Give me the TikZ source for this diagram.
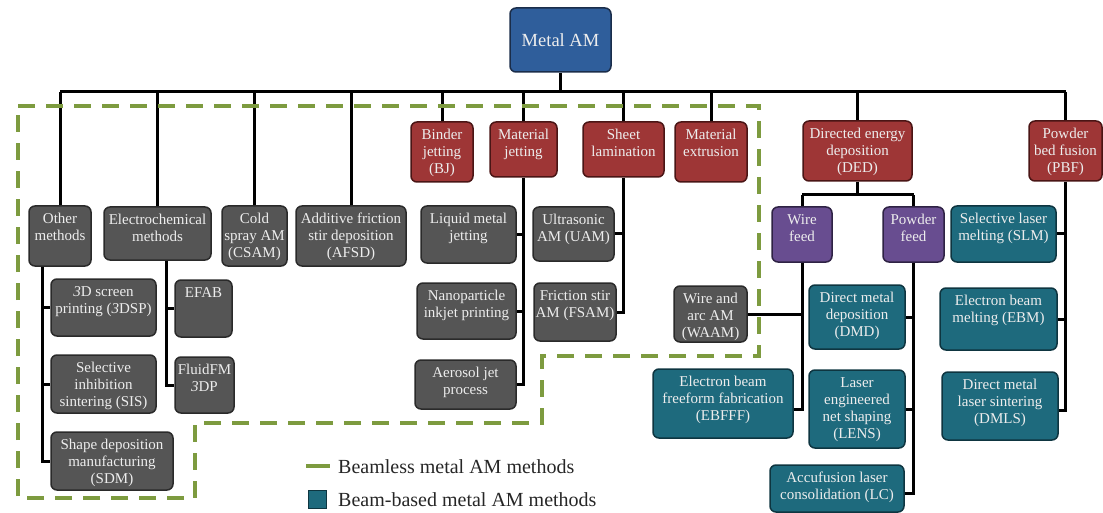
\documentclass[tikz,border=0pt]{standalone}
\usepackage{fontspec}
\setmainfont{Liberation Serif}
\definecolor{gfill}{HTML}{555555}
\definecolor{gline}{HTML}{2A2A2A}
\definecolor{rfill}{HTML}{9E3636}
\definecolor{rline}{HTML}{4A1515}
\definecolor{bfill}{HTML}{2F5E9B}
\definecolor{bline}{HTML}{1A2D4A}
\definecolor{pfill}{HTML}{684D90}
\definecolor{pline}{HTML}{2E2244}
\definecolor{tfill}{HTML}{1E6A7D}
\definecolor{tline}{HTML}{0E3540}
\definecolor{dgreen}{HTML}{7D9B3F}
\definecolor{txt}{HTML}{EDEDED}
\tikzset{
  boxbase/.style={rounded corners=6pt, line width=1.5pt, inner sep=0pt},
  gbox/.style={boxbase, fill=gfill, draw=gline},
  rbox/.style={boxbase, fill=rfill, draw=rline},
  pbox/.style={boxbase, fill=pfill, draw=pline},
  tbox/.style={boxbase, fill=tfill, draw=tline},
  lbl/.style={anchor=north, align=center, text=txt, inner sep=0pt, yshift=-6pt,
    font=\fontsize{15}{17}\selectfont},
  conn/.style={line width=3pt, black},
  beamless/.style={line width=4.5pt, dgreen, dash pattern=on 17pt off 11pt},
  legtext/.style={anchor=west, text=black!85, font=\fontsize{20}{24}\selectfont, inner sep=0pt}
}
\newcommand\bx[7]{%
  \node[#6, minimum width={#4pt-#2pt}, minimum height={#5pt-#3pt},
        label={[lbl]north:{\strut #7}}] (#1) at ({(#2+#4)/2},{-(#3+#5)/2}) {};}
\begin{document}
\begin{tikzpicture}[x=1pt,y=1pt]
\useasboundingbox (0,0) rectangle (1103,-513);
% root
\node[boxbase, fill=bfill, draw=bline, minimum width=101pt, minimum height=64pt,
      text=txt, font=\fontsize{18.5}{22}\selectfont] (metal) at (560.5,-40) {Metal AM};
% first level
\bx{other}{29}{206}{91}{266}{gbox}{Other\\methods}
\bx{elec}{104}{207}{211}{260}{gbox}{Electrochemical\\methods}
\bx{csam}{222}{206}{287}{266}{gbox}{Cold\\spray AM\\(CSAM)}
\bx{afsd}{296}{206}{406}{266}{gbox}{Additive friction\\stir deposition\\(AFSD)}
\bx{bj}{411}{122}{473}{182}{rbox}{Binder\\jetting\\(BJ)}
\bx{mj}{490}{122}{557}{177}{rbox}{Material\\jetting}
\bx{sl}{583}{122}{664}{177}{rbox}{Sheet\\lamination}
\bx{me}{675}{122}{747}{182}{rbox}{Material\\extrusion}
\bx{ded}{803}{121}{912}{181}{rbox}{Directed energy\\deposition\\(DED)}
\bx{pbf}{1029}{121}{1102}{181}{rbox}{Powder\\bed fusion\\(PBF)}
% second level
\bx{sdsp}{51}{279}{156}{336}{gbox}{\textit{3}D screen\\printing (\textit{3}DSP)}
\bx{sis}{51}{355}{156}{413}{gbox}{Selective\\inhibition\\sintering (SIS)}
\bx{sdm}{51}{432}{173}{490}{gbox}{Shape deposition\\manufacturing\\(SDM)}
\bx{efab}{175}{280}{232}{337}{gbox}{EFAB}
\bx{ffm}{175}{357}{234}{413}{gbox}{FluidFM\\\textit{3}DP}
\bx{lmj}{421}{206}{516}{263}{gbox}{Liquid metal\\jetting}
\bx{nip}{417}{283}{516}{339}{gbox}{Nanoparticle\\inkjet printing}
\bx{ajp}{415}{360}{516}{409}{gbox}{Aerosol jet\\process}
\bx{uam}{533}{207}{614}{261}{gbox}{Ultrasonic\\AM (UAM)}
\bx{fsam}{534}{283}{616}{341}{gbox}{Friction stir\\AM (FSAM)}
\bx{wire}{772}{207}{832}{262}{pbox}{Wire\\feed}
\bx{powder}{883}{207}{944}{262}{pbox}{Powder\\feed}
\bx{waam}{674}{286}{747}{342}{gbox}{Wire and\\arc AM\\(WAAM)}
\bx{ebfff}{653}{369}{793}{438}{tbox}{Electron beam\\freeform fabrication\\(EBFFF)}
\bx{dmd}{809}{285}{905}{349}{tbox}{Direct metal\\deposition\\(DMD)}
\bx{lens}{809}{370}{905}{448}{tbox}{Laser\\engineered\\net shaping\\(LENS)}
\bx{lc}{770}{465}{904}{512}{tbox}{Accufusion laser\\consolidation (LC)}
\bx{slm}{951}{206}{1056}{262}{tbox}{Selective laser\\melting (SLM)}
\bx{ebm}{940}{288}{1057}{350}{tbox}{Electron beam\\melting (EBM)}
\bx{dmls}{942}{372}{1058}{440}{tbox}{Direct metal\\laser sintering\\(DMLS)}
% connectors
\coordinate (bus) at (0,-92);
\draw[conn] (metal.south) -- (metal.south |- bus);
\draw[conn] (other.north |- bus) -- (pbf.north |- bus);
\foreach \c in {other,elec,csam,afsd,bj,mj,sl,me,ded,pbf}
  \draw[conn] (\c.north) -- (\c.north |- bus);
% other methods
\coordinate (ostem) at ([xshift=14pt]other.south west);
\draw[conn] (ostem) |- (sdm.west);
\draw[conn] (ostem |- sdsp.west) -- (sdsp.west);
\draw[conn] (ostem |- sis.west) -- (sis.west);
% electrochemical
\coordinate (estem) at ([xshift=-8pt]efab.west |- elec.south);
\draw[conn] (estem) |- (ffm.west);
\draw[conn] (estem |- efab.west) -- (efab.west);
% material jetting
\draw[conn] (mj.south) |- (ajp.east);
\draw[conn] (mj.south |- lmj.east) -- (lmj.east);
\draw[conn] (mj.south |- nip.east) -- (nip.east);
% sheet lamination
\draw[conn] (sl.south) |- (fsam.east);
\draw[conn] (sl.south |- uam.east) -- (uam.east);
% DED
\coordinate (dedbus) at ([yshift=-13pt]ded.south);
\draw[conn] (ded.south) -- (dedbus);
\draw[conn] (wire.north |- dedbus) -- (powder.north |- dedbus);
\draw[conn] (wire.north) -- (wire.north |- dedbus);
\draw[conn] (powder.north) -- (powder.north |- dedbus);
\draw[conn] (wire.south) |- ([yshift=-6pt]ebfff.east);
\draw[conn] (wire.south |- waam.east) -- (waam.east);
\draw[conn] (powder.south) |- ([yshift=-5pt]lc.east);
\draw[conn] (powder.south |- dmd.east) -- (dmd.east);
\draw[conn] (powder.south |- lens.east) -- (lens.east);
% PBF
\draw[conn] (pbf.south) |- ([yshift=-4pt]dmls.east);
\draw[conn] (pbf.south |- slm.east) -- (slm.east);
\draw[conn] (pbf.south |- ebm.east) -- (ebm.east);
% beamless region
\draw[beamless] (18,-106) -- (759,-106) -- (759,-356) -- (542,-356) -- (542,-423)
  -- (195,-423) -- (195,-498) -- (18,-498) -- cycle;
% legend
\coordinate (lg1a) at (306,-466);
\coordinate (lg1b) at (330,-466);
\draw[line width=4.5pt, dgreen] (lg1a) -- (lg1b);
\node[legtext] (leg1) at (338,-467) {Beamless metal AM methods};
\node[fill=tfill, draw=tline, line width=1pt, minimum size=18pt, inner sep=0pt] (legsq) at (317,-499) {};
\node[legtext] (leg2) at (338,-500) {Beam-based metal AM methods};
\end{tikzpicture}
\end{document}
